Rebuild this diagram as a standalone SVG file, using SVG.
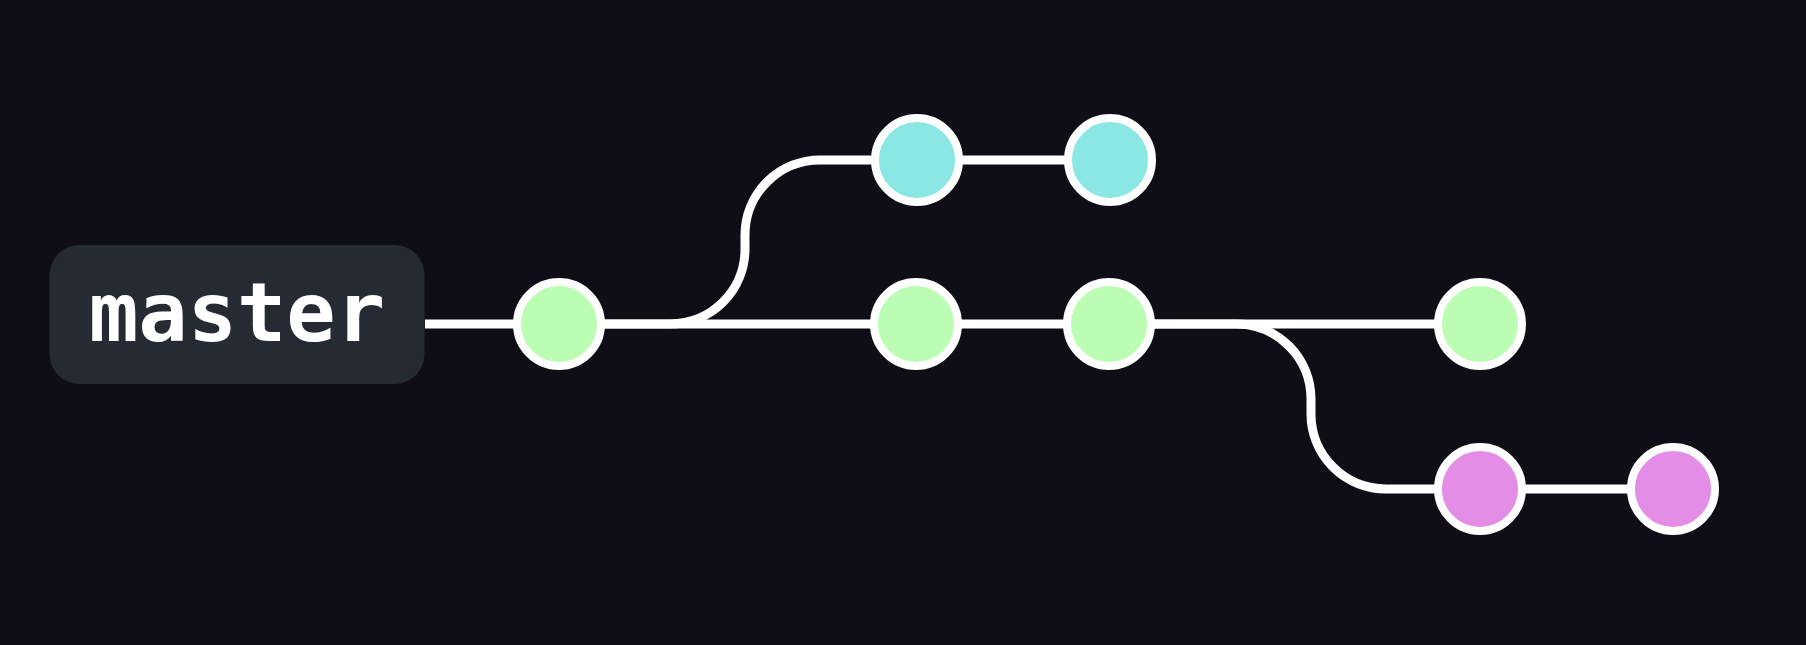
<svg xmlns="http://www.w3.org/2000/svg" width="1806" height="645" viewBox="0 0 1806 645">
<style>
.edge{fill:none;stroke:#ffffff;stroke-width:9}
.commit{stroke:#ffffff;stroke-width:8}
.main{fill:#bbfdb2}
.feat{fill:#8ae7e4}
.fix{fill:#e48de7}
.label{font-family:"DejaVu Sans Mono","Liberation Mono",monospace;font-weight:bold;font-size:82px;fill:#ffffff}
</style>
<rect width="1806" height="645" fill="#0f0e17"/>
<g id="connectors">
<path class="edge" d="M 425 324 H 1480"/>
<path class="edge" d="M 600 324 H 670 A 75 75 0 0 0 745 249 V 235 A 75 75 0 0 1 820 160 H 1110"/>
<path class="edge" d="M 1109 324 H 1236 A 75 75 0 0 1 1311 399 V 414 A 75 75 0 0 0 1386 489 H 1673"/>
</g>
<g id="master">
<rect x="49.5" y="245" width="375" height="139" rx="30" fill="#262b33"/>
<text class="label" x="237" y="341" text-anchor="middle">master</text>
</g>
<g id="c1"><circle class="commit main" cx="559" cy="324" r="42"/></g>
<g id="c2"><circle class="commit main" cx="916" cy="324" r="42"/></g>
<g id="c3"><circle class="commit main" cx="1109" cy="324" r="42"/></g>
<g id="c4"><circle class="commit main" cx="1480" cy="324" r="42"/></g>
<g id="f1"><circle class="commit feat" cx="917" cy="160" r="42"/></g>
<g id="f2"><circle class="commit feat" cx="1110" cy="160" r="42"/></g>
<g id="p1"><circle class="commit fix" cx="1480" cy="489" r="42"/></g>
<g id="p2"><circle class="commit fix" cx="1673" cy="489" r="42"/></g>
</svg>
